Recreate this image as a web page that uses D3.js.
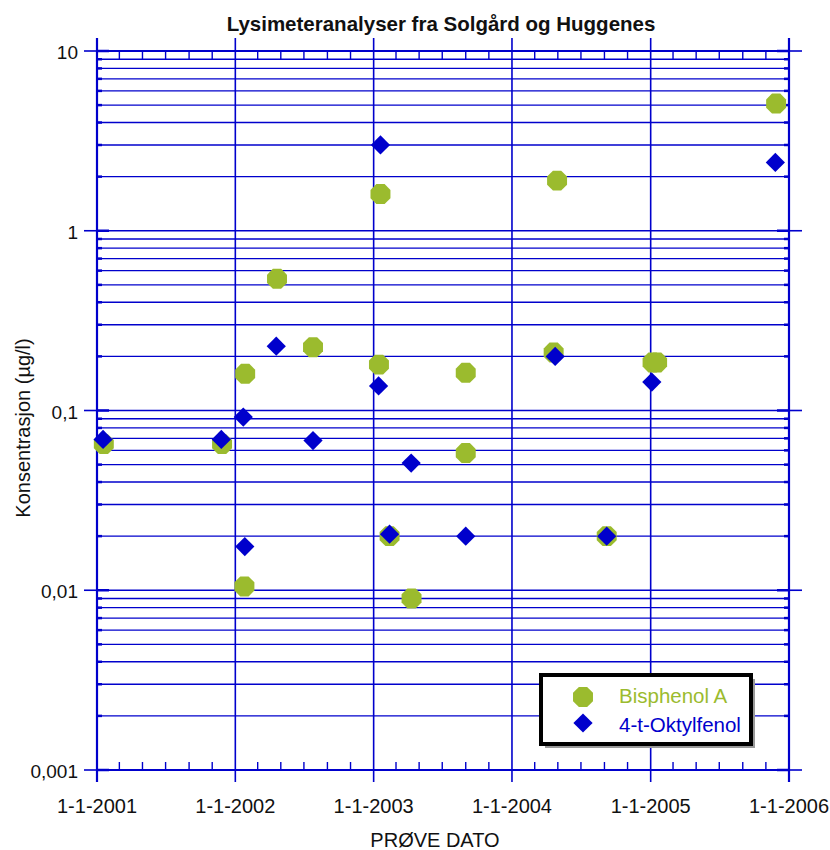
<!DOCTYPE html>
<html>
<head>
<meta charset="utf-8">
<script src="https://cdn.jsdelivr.net/npm/d3@7"></script>
<style>
  body { margin: 0; background: #fff; }
  text { font-family: "Liberation Sans", Arial, sans-serif; }
</style>
</head>
<body>
<div id="chart"></div>
<script>
// Data
var bisDates = ["2001-01-19", "2001-11-27", "2002-01-25", "2002-01-27", "2002-04-21", "2002-07-25",
  "2003-01-15", "2003-01-19", "2003-02-12", "2003-04-11", "2003-09-01", "2003-09-01",
  "2004-04-20", "2004-04-29", "2004-09-07", "2005-01-06", "2005-01-18", "2005-11-28"];
var bisValues = [0.065, 0.065, 0.0105, 0.16, 0.54, 0.225,
  0.18, 1.6, 0.02, 0.009, 0.162, 0.058,
  0.21, 1.9, 0.02, 0.185, 0.185, 5.1];

var oktDates = ["2001-01-17", "2001-11-25", "2002-01-22", "2002-01-26", "2002-04-19", "2002-07-25",
  "2003-01-14", "2003-01-19", "2003-02-12", "2003-04-10", "2003-09-01",
  "2004-04-24", "2004-09-07", "2005-01-04", "2005-11-26"];
var oktValues = [0.069, 0.069, 0.092, 0.0175, 0.228, 0.068,
  0.137, 3.0, 0.0205, 0.051, 0.020,
  0.20, 0.020, 0.144, 2.4];

var yMajor = [0.001, 0.01, 0.1, 1, 10];
var yMajorLabels = ["0,001", "0,01", "0,1", "1", "10"];
var xYears = ["2001-01-01", "2002-01-01", "2003-01-01", "2004-01-01", "2005-01-01", "2006-01-01"];
var xYearLabels = ["1-1-2001", "1-1-2002", "1-1-2003", "1-1-2004", "1-1-2005", "1-1-2006"];
var seriesNames = ["Bisphenol A", "4-t-Oktylfenol"];

var BLUE = "#0000cc", GREEN = "#9bbb2e";
var width = 830, height = 850;
var plotLeft = 97, plotRight = 789, plotTop = 51, plotBottom = 770;

var parse = d3.timeParse("%Y-%m-%d");

var svg = d3.select("#chart").append("svg")
  .attr("width", width)
  .attr("height", height);

var x = d3.scaleTime()
  .domain([parse("2001-01-01"), parse("2006-01-01")])
  .range([plotLeft, plotRight]);

var y = d3.scaleLog()
  .domain([0.001, 10])
  .range([plotBottom, plotTop]);

// all horizontal grid values (1..9 per decade)
var yGrid = [];
for (var e = -3; e < 1; e++) {
  for (var m = 1; m < 10; m++) yGrid.push(m * Math.pow(10, e));
}
yGrid.push(10);

function isMajor(d) {
  return yMajor.some(v => Math.abs(v - d) < d * 1e-6);
}

var grid = svg.append("g");

// horizontal gridlines
grid.selectAll("line.h")
  .data(yGrid)
  .enter().append("line")
  .attr("x1", plotLeft).attr("x2", plotRight)
  .attr("y1", d => y(d)).attr("y2", d => y(d))
  .style("stroke", BLUE).style("stroke-width", 1.4);

// short inner ticks on left and right sides
grid.selectAll("line.tl")
  .data(yGrid)
  .enter().append("line")
  .attr("x1", plotLeft)
  .attr("x2", d => isMajor(d) ? plotLeft + 12 : plotLeft + 5)
  .attr("y1", d => y(d)).attr("y2", d => y(d))
  .style("stroke", BLUE).style("stroke-width", 2.5);
grid.selectAll("line.tr")
  .data(yGrid)
  .enter().append("line")
  .attr("x1", plotRight)
  .attr("x2", d => isMajor(d) ? plotRight - 12 : plotRight - 5)
  .attr("y1", d => y(d)).attr("y2", d => y(d))
  .style("stroke", BLUE).style("stroke-width", 2.5);

// outer major ticks left/right
grid.selectAll("line.ol")
  .data(yMajor)
  .enter().append("line")
  .attr("x1", plotLeft - 13).attr("x2", plotLeft)
  .attr("y1", d => y(d)).attr("y2", d => y(d))
  .style("stroke", BLUE).style("stroke-width", 1.6);
grid.selectAll("line.or")
  .data(yMajor)
  .enter().append("line")
  .attr("x1", plotRight).attr("x2", plotRight + 13)
  .attr("y1", d => y(d)).attr("y2", d => y(d))
  .style("stroke", BLUE).style("stroke-width", 1.6);

// vertical year lines, extending past the frame
grid.selectAll("line.v")
  .data(xYears)
  .enter().append("line")
  .attr("x1", d => x(parse(d))).attr("x2", d => x(parse(d)))
  .attr("y1", plotTop - 13).attr("y2", plotBottom + 12)
  .style("stroke", BLUE)
  .style("stroke-width", (d, i) => (i === 0 || i === xYears.length - 1) ? 2.2 : 1.6);

// minor x ticks every two months, top and bottom, pointing inward
var minorX = d3.timeMonth.every(2).range(parse("2001-01-01"), parse("2006-01-01"))
  .filter(d => d.getMonth() !== 0);
grid.selectAll("line.mb")
  .data(minorX)
  .enter().append("line")
  .attr("x1", d => x(d)).attr("x2", d => x(d))
  .attr("y1", plotBottom).attr("y2", plotBottom - 8)
  .style("stroke", BLUE).style("stroke-width", 1.4);
grid.selectAll("line.mt")
  .data(minorX)
  .enter().append("line")
  .attr("x1", d => x(d)).attr("x2", d => x(d))
  .attr("y1", plotTop).attr("y2", plotTop + 8)
  .style("stroke", BLUE).style("stroke-width", 1.4);

// frame top / bottom a bit heavier
grid.selectAll("line.frame")
  .data([plotTop, plotBottom])
  .enter().append("line")
  .attr("x1", plotLeft).attr("x2", plotRight)
  .attr("y1", d => d).attr("y2", d => d)
  .style("stroke", BLUE).style("stroke-width", 2);

// tick labels
svg.append("g").selectAll("text")
  .data(yMajor)
  .enter().append("text")
  .attr("x", 78)
  .attr("y", d => y(d) + 8)
  .attr("text-anchor", "end")
  .style("font-size", "19px")
  .style("fill", "#111")
  .text((d, i) => yMajorLabels[i]);

svg.append("g").selectAll("text")
  .data(xYears)
  .enter().append("text")
  .attr("x", d => x(parse(d)))
  .attr("y", 813)
  .attr("text-anchor", "middle")
  .style("font-size", "20px")
  .style("fill", "#111")
  .text((d, i) => xYearLabels[i]);

// titles
svg.append("text")
  .attr("x", 441).attr("y", 31)
  .attr("text-anchor", "middle")
  .style("font-size", "20.5px")
  .style("font-weight", "bold")
  .style("fill", "#111")
  .text("Lysimeteranalyser fra Solgård og Huggenes");

svg.append("text")
  .attr("x", 435).attr("y", 847)
  .attr("text-anchor", "middle")
  .style("font-size", "20px")
  .style("fill", "#111")
  .text("PRØVE DATO");

svg.append("text")
  .attr("transform", "translate(30,428) rotate(-90)")
  .attr("text-anchor", "middle")
  .style("font-size", "20px")
  .style("fill", "#111")
  .text("Konsentrasjon (µg/l)");

// markers
function octagon(cx, cy, r) {
  var pts = d3.range(8).map(k => {
    var a = Math.PI / 8 + k * Math.PI / 4;
    return [cx + r * Math.cos(a), cy + r * Math.sin(a)];
  });
  return d3.line()(pts) + "Z";
}
var diamond = d3.symbol().type(d3.symbolSquare).size(185);

var bis = bisDates.map((d, i) => ({ date: parse(d), value: bisValues[i] }));
var okt = oktDates.map((d, i) => ({ date: parse(d), value: oktValues[i] }));

svg.append("g").selectAll("path")
  .data(bis)
  .enter().append("path")
  .attr("d", d => octagon(x(d.date), y(d.value), 10.8))
  .style("fill", GREEN);

svg.append("g").selectAll("path")
  .data(okt)
  .enter().append("path")
  .attr("d", diamond)
  .attr("transform", d => "translate(" + x(d.date) + "," + y(d.value) + ") rotate(45)")
  .style("fill", BLUE);

// legend
var legend = svg.append("g");
legend.append("rect")
  .attr("x", 545).attr("y", 679).attr("width", 210).attr("height", 69)
  .style("fill", "#999");
legend.append("rect")
  .attr("x", 541).attr("y", 675).attr("width", 210).attr("height", 69)
  .style("fill", "#fff").style("stroke", "#000").style("stroke-width", 4);
legend.append("path")
  .attr("d", octagon(583, 697, 10.8))
  .style("fill", GREEN);
legend.append("path")
  .attr("d", diamond)
  .attr("transform", "translate(583,723) rotate(45)")
  .style("fill", BLUE);
legend.selectAll("text.l")
  .data(seriesNames)
  .enter().append("text")
  .attr("x", 619)
  .attr("y", (d, i) => 703 + i * 29)
  .style("font-size", "20.5px")
  .style("fill", (d, i) => i === 0 ? GREEN : BLUE)
  .text(d => d);
</script>
</body>
</html>
